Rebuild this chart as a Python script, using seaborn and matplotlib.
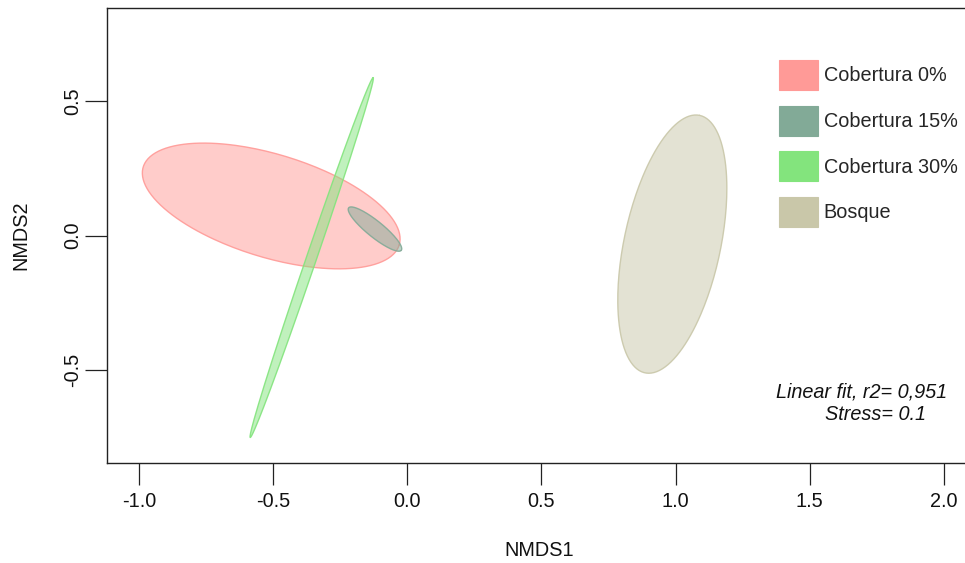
import numpy as np
import pandas as pd
import matplotlib
matplotlib.use("Agg")
import matplotlib.pyplot as plt
from matplotlib.patches import Patch
import seaborn as sns

# ---- data (ellipse summaries, NMDS units) ----
groups = ["Cobertura 0%", "Cobertura 15%", "Cobertura 30%", "Bosque"]
center_x = [-0.508, -0.121, -0.357, 0.988]
center_y = [0.110, 0.024, -0.082, -0.032]
semi_major = [0.499, 0.126, 0.708, 0.490]
semi_minor = [0.192, 0.030, 0.019, 0.180]
angle_deg = [-16.9, -38.9, 71.1, 78.0]
colors = ["#FF9A97", "#82AA97", "#83E47D", "#C9C7A9"]

x_ticks = [-1.0, -0.5, 0.0, 0.5, 1.0, 1.5, 2.0]
y_ticks = [-0.5, 0.0, 0.5]
fit_text = "Linear fit, r2= 0,951"
stress_text = "Stress= 0.1"

sns.set_theme(style="ticks")
plt.rcParams["font.family"] = ["Liberation Sans", "DejaVu Sans"]
plt.rcParams["font.size"] = 14

fig = plt.figure(figsize=(9.65, 5.63), dpi=100)
W, H = 965, 563
left, right, top, bottom = 106.7, 971, 8, 463.3
ax = fig.add_axes([left / W, (H - bottom) / H, (right - left) / W, (bottom - top) / H])

t = np.linspace(0, 2 * np.pi, 241)
for i in range(len(groups)):
    th = np.deg2rad(angle_deg[i])
    ex = semi_major[i] * np.cos(t)
    ey = semi_minor[i] * np.sin(t)
    px = center_x[i] + ex * np.cos(th) - ey * np.sin(th)
    py = center_y[i] + ex * np.sin(th) + ey * np.cos(th)
    ax.fill(px, py, facecolor=colors[i], alpha=0.5, edgecolor="none", zorder=2 + i)
    df = pd.DataFrame({"x": px, "y": py})
    sns.lineplot(data=df, x="x", y="y", sort=False, estimator=None, ax=ax,
                 color=colors[i], lw=1.0, alpha=0.9, zorder=2.5 + i)

ax.set_xlim(-1.1216, 2.102)
ax.set_ylim(-0.848, 0.847)
ax.set_xticks(x_ticks)
ax.set_xticklabels([f"{v:.1f}" for v in x_ticks])
ax.set_yticks(y_ticks)
ax.set_yticklabels([f"{v:.1f}" for v in y_ticks], rotation=90, va="center")

for s in ax.spines.values():
    s.set_color("#222222")
    s.set_linewidth(1.0)
ax.spines["right"].set_visible(False)
ax.tick_params(axis="both", length=16, width=0.9, color="#222222", labelsize=14.3,
               labelcolor="#111111")
ax.tick_params(axis="x", pad=4.5)
ax.tick_params(axis="y", pad=1.5)

ax.set_xlabel("NMDS1", fontsize=14.3, labelpad=21.5, color="#111111")
ax.set_ylabel("NMDS2", fontsize=14.3, labelpad=24, color="#111111")

ax.text(1.373, -0.583, fit_text, style="italic", fontsize=14.3, ha="left", va="center",
        color="#111111")
ax.text(1.559, -0.665, stress_text, style="italic", fontsize=14.3, ha="left", va="center",
        color="#111111")

handles = [Patch(facecolor=c, edgecolor=c, linewidth=0.8) for c in colors]
ax.legend(handles, groups, loc="upper left", bbox_to_anchor=(779 / W, 1 - 60 / H),
          bbox_transform=fig.transFigure, frameon=False, borderpad=0, borderaxespad=0,
          handlelength=1.95, handleheight=1.96, labelspacing=0.78, handletextpad=0.3,
          fontsize=14.3)

fig.savefig("out.png", dpi=100)
